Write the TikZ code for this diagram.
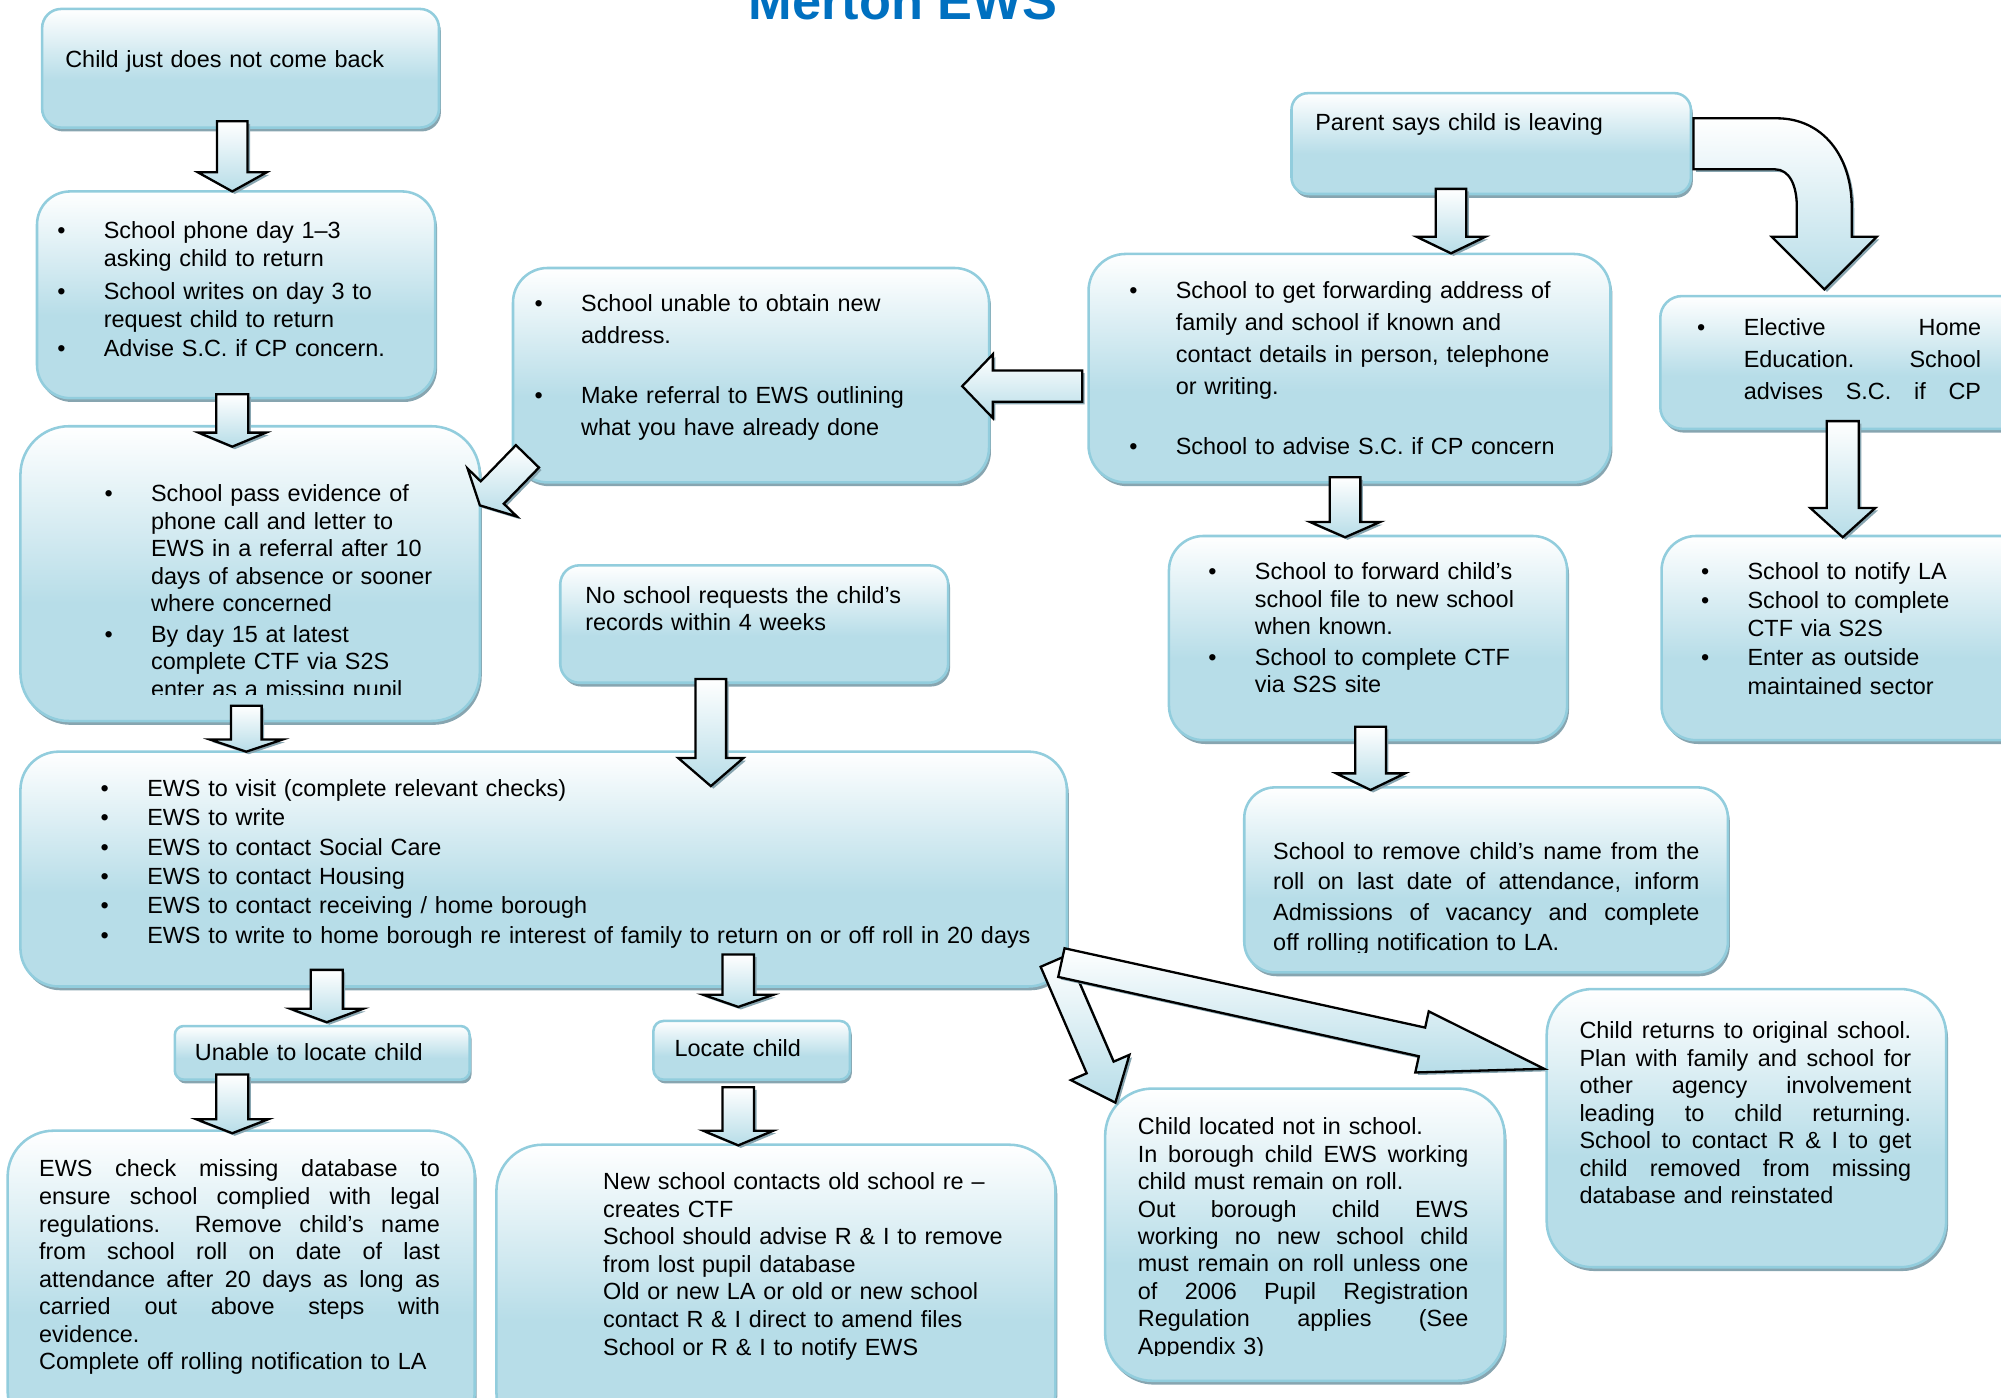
\documentclass[tikz,border=0pt]{standalone}
\usepackage{fontspec}
\setmainfont{Liberation Sans}
\usetikzlibrary{calc,shadows}
\definecolor{boxblue}{RGB}{183,221,232}
\definecolor{boxline}{RGB}{146,205,221}
\definecolor{shadowcol}{RGB}{135,165,176}
\definecolor{titleblue}{RGB}{0,112,192}
\pgfdeclareverticalshading{boxshade}{100bp}{color(0bp)=(boxblue); color(25bp)=(boxblue); color(45bp)=(boxblue); color(75bp)=(white); color(100bp)=(white)}
\newlength\jw
\newcommand\fsz[1]{\fontsize{18.35}{#1}\selectfont}
\newcommand\bitem[1]{\makebox[36.5pt][l]{\textbullet}#1}
\newcommand\bcont[1]{\hspace*{36.5pt}#1}
\newcommand\jline[1]{{\spaceskip=\fontdimen2\font plus 1fil\xspaceskip=\spaceskip\makebox[\jw][s]{#1}}}
\newcommand\blockarrow[5]{%
  \coordinate (hb) at ($(#2)!#5!(#1)$);
  \draw[arrowbox] ($(#1)!#3!90:(#2)$) -- ($(hb)!#3!90:(#2)$) -- ($(hb)!#4!90:(#2)$) -- (#2)
    -- ($(hb)!#4!-90:(#2)$) -- ($(hb)!#3!-90:(#2)$) -- ($(#1)!#3!-90:(#2)$) -- cycle;}
\frenchspacing
\begin{document}
\begin{tikzpicture}[x=1pt,y=-1pt,
    box/.style={draw=boxline, line width=2pt, shading=boxshade, anchor=north west, inner sep=0pt, outer sep=0pt,
      drop shadow={shadow xshift=1.5pt, shadow yshift=-3pt, fill=shadowcol, opacity=1}},
    txt/.style={anchor=north west, inner sep=0pt, align=left, text width=#1},
    arrowbox/.style={draw=black, line width=1.8pt, line join=miter, top color=white, bottom color=boxblue,
      drop shadow={shadow xshift=2pt, shadow yshift=-2pt, fill=shadowcol, opacity=1}}]
  \useasboundingbox (0,0) rectangle (1568,1095);
  \clip (0,0) rectangle (1568,1095);

  \node[anchor=base, text=titleblue, font=\bfseries\fontsize{41}{41}\selectfont] (title) at (707.5,15) {Merton EWS};

  % boxes
  \node[box, minimum width=311pt, minimum height=93pt, rounded corners=15pt] (A) at (33,7) {};
  \node[box, minimum width=312pt, minimum height=162pt, rounded corners=26pt] (B) at (29,150) {};
  \node[box, minimum width=360pt, minimum height=231pt, rounded corners=38pt] (C) at (16,334) {};
  \node[box, minimum width=373pt, minimum height=168pt, rounded corners=27pt] (D) at (402,210) {};
  \node[box, minimum width=313pt, minimum height=79pt, rounded corners=13pt] (E) at (1012,73) {};
  \node[box, minimum width=409pt, minimum height=179pt, rounded corners=29pt] (F) at (853,199) {};
  \node[box, minimum width=320pt, minimum height=104pt, rounded corners=17pt] (G) at (1301,232) {};
  \node[box, minimum width=320pt, minimum height=160pt, rounded corners=27pt] (H) at (1302,420) {};
  \node[box, minimum width=312pt, minimum height=160pt, rounded corners=27pt] (I) at (916,420) {};
  \node[box, minimum width=304pt, minimum height=92pt, rounded corners=15pt] (J) at (439,443) {};
  \node[box, minimum width=820pt, minimum height=184pt, rounded corners=30pt] (K) at (16,589) {};
  \node[box, minimum width=379pt, minimum height=145pt, rounded corners=24pt] (L) at (975,617) {};
  \node[box, minimum width=231pt, minimum height=42pt, rounded corners=7pt] (M) at (137,804) {};
  \node[box, minimum width=154pt, minimum height=46pt, rounded corners=8pt] (N) at (512,800) {};
  \node[box, minimum width=366pt, minimum height=240pt, rounded corners=36pt] (O) at (6,886) {};
  \node[box, minimum width=438pt, minimum height=230pt, rounded corners=36pt] (P) at (389,897) {};
  \node[box, minimum width=313pt, minimum height=229pt, rounded corners=37pt] (Q) at (866,853) {};
  \node[box, minimum width=313pt, minimum height=218pt, rounded corners=36pt] (R) at (1212,775) {};

  % texts
  \node[txt=290pt, font=\fsz{21.6}] (At) at (51,37.9) {\strut Child just does not come back};
  \node[txt=295pt, font=\fsz{21.8}] (Bt) at (44.7,171.7) {\strut\bitem{School phone day 1–3}\\
    \bcont{asking child to return}\\[4pt]
    \bitem{School writes on day 3 to}\\
    \bcont{request child to return}\\[1pt]
    \bitem{Advise S.C. if CP concern.}};
  \begin{scope}
    \clip (20,340) rectangle (372,544);
    \node[txt=290pt, font=\fsz{21.5}] (Ct) at (81.7,378) {\strut\bitem{School pass evidence of}\\
      \bcont{phone call and letter to}\\
      \bcont{EWS in a referral after 10}\\
      \bcont{days of absence or sooner}\\
      \bcont{where concerned}\\[2.5pt]
      \bitem{By day 15 at latest}\\
      \bcont{complete CTF via S2S}\\
      \bcont{enter as a missing pupil}};
  \end{scope}
  \node[txt=340pt, font=\fsz{25}] (Dt) at (418.7,226.5) {\strut\bitem{School unable to obtain new}\\
    \bcont{address.}\\[22pt]
    \bitem{Make referral to EWS outlining}\\
    \bcont{what you have already done}};
  \node[txt=290pt, font=\fsz{21.6}] (Et) at (1030.5,86.9) {\strut Parent says child is leaving};
  \node[txt=370pt, font=\fsz{25}] (Ft) at (884.7,216.5) {\strut\bitem{School to get forwarding address of}\\
    \bcont{family and school if known and}\\
    \bcont{contact details in person, telephone}\\
    \bcont{or writing.}\\[22pt]
    \bitem{School to advise S.C. if CP concern}};
  \node[txt=230pt, font=\fsz{25}] (Gt) at (1329.7,245.5) {\setlength\jw{186pt}\strut\bitem{\jline{Elective Home}}\\
    \bcont{\jline{Education. School}}\\
    \bcont{\jline{advises S.C. if CP}}};
  \node[txt=230pt, font=\fsz{22.5}] (Ht) at (1332.7,438) {\strut\bitem{School to notify LA}\\
    \bitem{School to complete}\\
    \bcont{CTF via S2S}\\
    \bitem{Enter as outside}\\
    \bcont{maintained sector}};
  \node[txt=280pt, font=\fsz{21.5}] (It) at (946.7,439) {\strut\bitem{School to forward child’s}\\
    \bcont{school file to new school}\\
    \bcont{when known.}\\[2.5pt]
    \bitem{School to complete CTF}\\
    \bcont{via S2S site}};
  \node[txt=280pt, font=\fsz{21}] (Jt) at (458.5,458.3) {\strut No school requests the child’s\\
    records within 4 weeks};
  \node[txt=760pt, font=\fsz{23}] (Kt) at (78.7,607.9) {\strut\bitem{EWS to visit (complete relevant checks)}\\
    \bitem{EWS to write}\\
    \bitem{EWS to contact Social Care}\\
    \bitem{EWS to contact Housing}\\
    \bitem{EWS to contact receiving / home borough}\\
    \bitem{EWS to write to home borough re interest of family to return on or off roll in 20 days}};
  \begin{scope}
    \clip (980,620) rectangle (1350,746);
    \node[txt=334pt, font=\fsz{24}] (Lt) at (997.5,656.2) {\setlength\jw{334pt}\strut\jline{School to remove child’s name from the}\\
      \jline{roll on last date of attendance, inform}\\
      \jline{Admissions of vacancy and complete}\\
      off rolling notification to LA.};
  \end{scope}
  \node[txt=220pt, font=\fsz{21.6}] (Mt) at (152.5,815.9) {\strut Unable to locate child};
  \node[txt=130pt, font=\fsz{21.6}] (Nt) at (528.5,812.9) {\strut Locate child};
  \node[txt=315pt, font=\fsz{21.6}] (Ot) at (30.5,906.9) {\setlength\jw{314pt}\strut\jline{EWS check missing database to}\\
    \jline{ensure school complied with legal}\\
    \jline{regulations.~ Remove child’s name}\\
    \jline{from school roll on date of last}\\
    \jline{attendance after 20 days as long as}\\
    \jline{carried out above steps with}\\
    evidence.\\
    Complete off rolling notification to LA};
  \node[txt=350pt, font=\fsz{21.6}] (Pt) at (472.5,916.9) {\strut New school contacts old school re –\\
    creates CTF\\
    School should advise R \& I to remove\\
    from lost pupil database\\
    Old or new LA or old or new school\\
    contact R \& I direct to amend files\\
    School or R \& I to notify EWS};
  \begin{scope}
    \clip (870,860) rectangle (1175,1062);
    \node[txt=260pt, font=\fsz{21.5}] (Qt) at (891.5,873.9) {\setlength\jw{259pt}\strut Child located not in school.\\
      \jline{In borough child EWS working}\\
      child must remain on roll.\\
      \jline{Out borough child EWS}\\
      \jline{working no new school child}\\
      \jline{must remain on roll unless one}\\
      \jline{of 2006 Pupil Registration}\\
      \jline{Regulation applies (See}\\
      Appendix 3)};
  \end{scope}
  \node[txt=261pt, font=\fsz{21.5}] (Rt) at (1237.5,798.9) {\setlength\jw{260pt}\strut\jline{Child returns to original school.}\\
    \jline{Plan with family and school for}\\
    \jline{other agency involvement}\\
    \jline{leading to child returning.}\\
    \jline{School to contact R \& I to get}\\
    \jline{child removed from missing}\\
    database and reinstated};

  % arrow ends
  \coordinate (a1s) at (182,95);     \coordinate (a1t) at (182,150);
  \coordinate (a2s) at (182,309);    \coordinate (a2t) at (182,350);
  \coordinate (a3s) at (193,553);    \coordinate (a3t) at (193,589);
  \coordinate (a4s) at (413.3,357.6); \coordinate (a4t) at (376,396);
  \coordinate (a5s) at (848,302.6);  \coordinate (a5t) at (754,302.6);
  \coordinate (a6s) at (1137,148);   \coordinate (a6t) at (1137,198.5);
  \coordinate (a8s) at (1444,330);   \coordinate (a8t) at (1444,421);
  \coordinate (a9s) at (1054,374);   \coordinate (a9t) at (1054,421);
  \coordinate (a10s) at (1074,569.5); \coordinate (a10t) at (1074,619);
  \coordinate (a11s) at (557,532);   \coordinate (a11t) at (557,616);
  \coordinate (a12s) at (256,760);   \coordinate (a12t) at (256,801);
  \coordinate (a13s) at (578.5,748); \coordinate (a13t) at (578.5,789);
  \coordinate (a14s) at (182,842);   \coordinate (a14t) at (182,888);
  \coordinate (a15s) at (578.5,852); \coordinate (a15t) at (578.5,897.5);
  \coordinate (a16s) at (826,753);   \coordinate (a16t) at (874,864);
  \coordinate (a17s) at (831.7,754.3); \coordinate (a17t) at (1210,837.5);

  % block arrows
  \blockarrow{a1s}{a1t}{12pt}{27pt}{15pt}
  \blockarrow{a2s}{a2t}{12.5pt}{26.5pt}{11pt}
  \blockarrow{a3s}{a3t}{12pt}{28.5pt}{9.5pt}
  \blockarrow{a4s}{a4t}{12.6pt}{27pt}{14pt}
  \blockarrow{a5s}{a5t}{12.2pt}{25pt}{24pt}
  \blockarrow{a6s}{a6t}{12pt}{27pt}{13pt}
  \blockarrow{a8s}{a8t}{12.5pt}{25.5pt}{23pt}
  \blockarrow{a9s}{a9t}{12pt}{27.5pt}{12pt}
  \blockarrow{a10s}{a10t}{12pt}{27pt}{13pt}
  \blockarrow{a11s}{a11t}{12pt}{25.5pt}{22pt}
  \blockarrow{a12s}{a12t}{12.5pt}{28.5pt}{10.5pt}
  \blockarrow{a13s}{a13t}{12.4pt}{27.5pt}{9.5pt}
  \blockarrow{a14s}{a14t}{12.5pt}{28.3pt}{11pt}
  \blockarrow{a15s}{a15t}{12.4pt}{27.5pt}{11.5pt}
  \blockarrow{a16s}{a16t}{11.5pt}{25pt}{30pt}
  \blockarrow{a17s}{a17t}{11.5pt}{24.5pt}{98pt}

  % bent arrow from E to G
  \coordinate (a7s) at (1327,112.7);
  \coordinate (a7t) at (1429.6,226.7);
  \draw[arrowbox] (a7s |- 0,92.7) -- (1392.3,92.7) .. controls (1428,92.7) and (1451,122) .. (1451,162)
    -- (1451,185.5) -- (1470.7,185.5) -- (a7t) -- (1388.4,185.5) -- (1408,185.5) -- (1408,162)
    .. controls (1408,145) and (1402,132.7) .. (1391,132.7) -- (a7s |- 0,132.7) -- cycle;
\end{tikzpicture}
\end{document}
